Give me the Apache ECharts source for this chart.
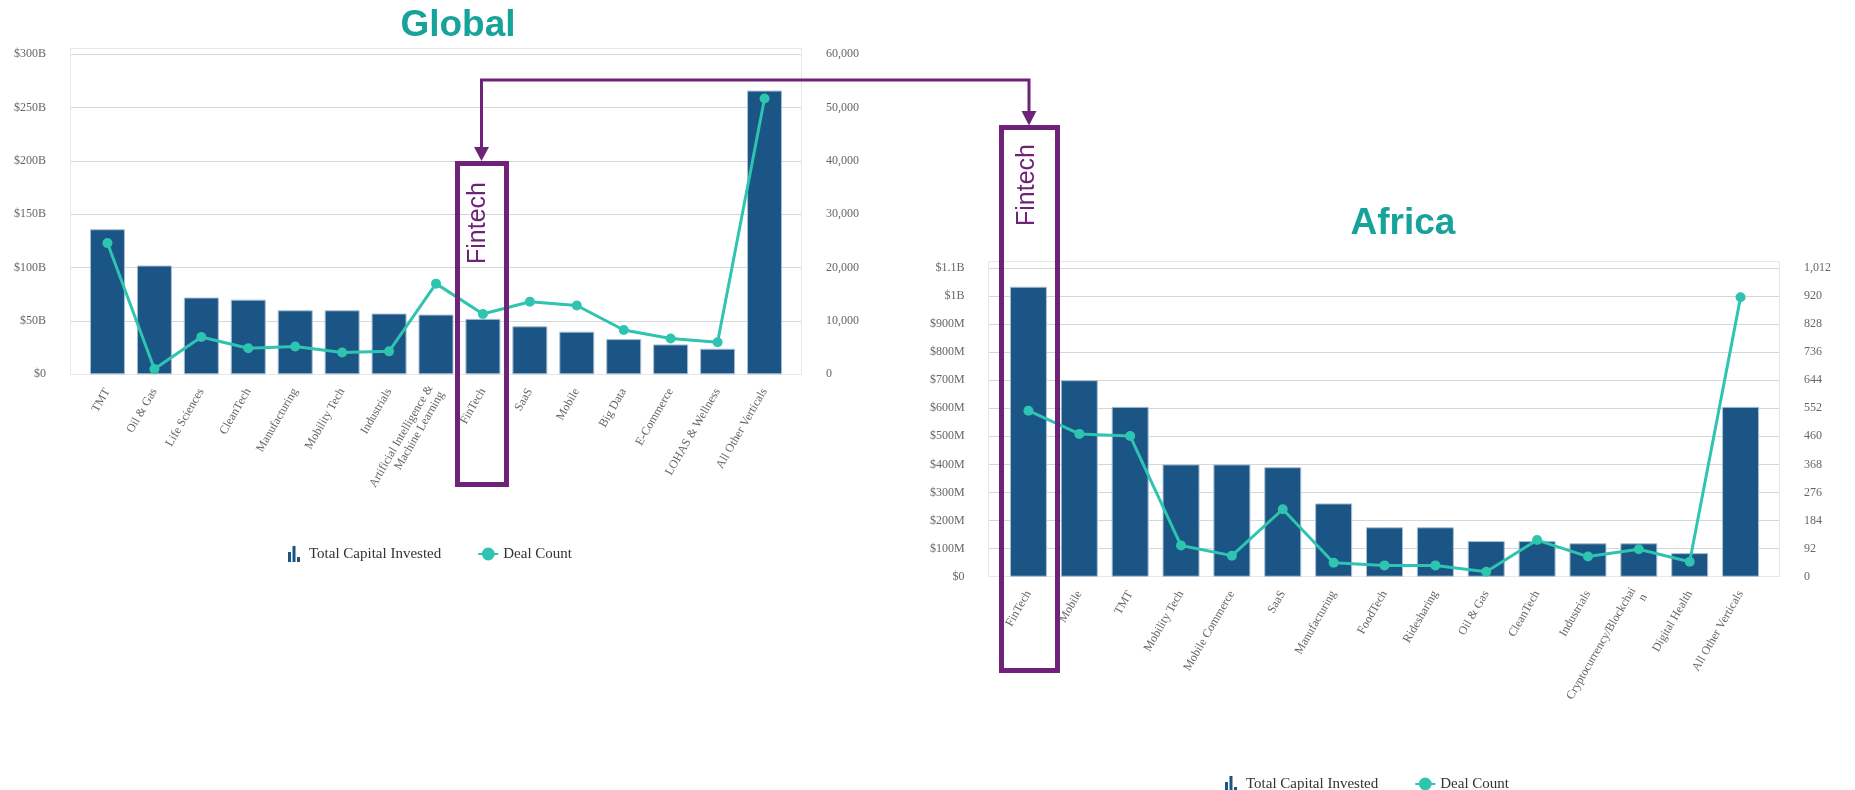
<!DOCTYPE html>
<html>
<head>
<meta charset="utf-8">
<script src="https://cdn.jsdelivr.net/npm/echarts@6/dist/echarts.min.js"></script>
<style>
html,body{margin:0;padding:0;background:#fff;}
#chart{width:1855px;height:790px;}
</style>
</head>
<body>
<div id="chart"></div>
<script>
// ---- Data ----
var globalCategories = ['TMT','Oil & Gas','Life Sciences','CleanTech','Manufacturing','Mobility Tech','Industrials','Artificial Intelligence &\nMachine Learning','FinTech','SaaS','Mobile','Big Data','E-Commerce','LOHAS & Wellness','All Other Verticals'];
var globalCapitalB = [136, 102, 72, 70, 60, 60, 57, 56, 52, 45, 40, 33, 28, 24, 266];
var globalDeals = [24600, 1000, 7000, 4900, 5200, 4100, 4300, 17000, 11300, 13600, 12900, 8300, 6700, 6000, 51700];
var globalLeftTicks = [0, 50, 100, 150, 200, 250, 300];
var globalRightTicks = [0, 10000, 20000, 30000, 40000, 50000, 60000];

var africaCategories = ['FinTech','Mobile','TMT','Mobility Tech','Mobile Commerce','SaaS','Manufacturing','FoodTech','Ridesharing','Oil & Gas','CleanTech','Industrials','Cryptocurrency/Blockchai\nn','Digital Health','All Other Verticals'];
var africaCapitalM = [1033, 700, 605, 400, 400, 390, 261, 176, 176, 127, 127, 119, 119, 84, 605];
var africaDeals = [544, 468, 461, 102, 69, 221, 46, 37, 37, 16, 120, 66, 90, 49, 916];
var africaLeftTicks = [0, 100, 200, 300, 400, 500, 600, 700, 800, 900, 1000, 1100];
var africaRightTicks = [0, 92, 184, 276, 368, 460, 552, 644, 736, 828, 920, 1012];

// ---- Styles ----
var BAR = '#1b5585', LINE = '#2ec4b0', PURPLE = '#6e2379', TEAL = '#17a39b';
var GRIDC = '#d6d6d6', LABC = '#666666', SERIF = '"Liberation Serif", "Times New Roman", serif';
var SANS = '"Liberation Sans", Arial, sans-serif';

function fmtB(v){ return v === 0 ? '$0' : '$' + v + 'B'; }
function fmtM(v){ if (v === 0) return '$0'; if (v >= 1000) return '$' + (v/1000) + 'B'; return '$' + v + 'M'; }
function fmtN(v){ return Number(v).toLocaleString('en-US'); }

var chart = echarts.init(document.getElementById('chart'), null, {renderer:'canvas'});

var yLab = {color: LABC, fontFamily: SERIF, fontSize: 12, margin: 24};
var xLab = {color: LABC, fontFamily: SERIF, fontSize: 12, rotate: 60, margin: 15, interval: 0, lineHeight: 13};
var barIcon = 'path://M0,6L3,6L3,16L0,16Z M4.5,0L7.5,0L7.5,16L4.5,16Z M9,11L12,11L12,16L9,16Z';

function frameY(grid, pos, max, interval, fmt, split){
  return {type:'value', gridIndex:grid, position:pos, min:0, max:max, interval:interval,
    axisLine:{show:false}, axisTick:{show:false},
    axisLabel:Object.assign({formatter:fmt}, yLab),
    splitLine:{show:split, lineStyle:{color:GRIDC, width:1}}};
}
function hiddenY(grid, max, interval){
  return {type:'value', gridIndex:grid, min:0, max:max, interval:interval, show:false, splitLine:{show:false}};
}
function makeLegend(left, top){
  return {left:left, top:top, itemWidth:20, itemHeight:16, itemGap:36,
    textStyle:{fontFamily:SERIF, fontSize:15, color:'#333'},
    data:[{name:'Total Capital Invested', icon:barIcon, itemStyle:{color:BAR, borderWidth:0}}, {name:'Deal Count'}]};
}

var option = {
  animation:false,
  backgroundColor:'#ffffff',
  grid:[
    {left:70, right:1855-802, top:54.3, bottom:790-374.3},
    {left:84, right:1855-788, top:54.3, bottom:790-374.3},
    {left:988.6, right:1855-1780, top:267.9, bottom:790-576.7},
    {left:1003, right:1855-1766, top:267.9, bottom:790-576.7}
  ],
  legend:[ makeLegend(283, 541), makeLegend(1220, 771) ],
  xAxis:[
    {type:'category', gridIndex:0, data:globalCategories, show:false},
    {type:'category', gridIndex:1, data:globalCategories, axisLine:{show:false}, axisTick:{show:false}, axisLabel:xLab},
    {type:'category', gridIndex:2, data:africaCategories, show:false},
    {type:'category', gridIndex:3, data:africaCategories, axisLine:{show:false}, axisTick:{show:false}, axisLabel:xLab}
  ],
  yAxis:[
    frameY(0, 'left', globalLeftTicks[globalLeftTicks.length-1], 50, fmtB, true),
    frameY(0, 'right', globalRightTicks[globalRightTicks.length-1], 10000, fmtN, false),
    hiddenY(1, 300, 50),
    hiddenY(1, 60000, 10000),
    frameY(2, 'left', africaLeftTicks[africaLeftTicks.length-1], 100, fmtM, true),
    frameY(2, 'right', africaRightTicks[africaRightTicks.length-1], 92, fmtN, false),
    hiddenY(3, 1100, 100),
    hiddenY(3, 1012, 92)
  ],
  series:[
    {name:'Total Capital Invested', type:'bar', xAxisIndex:1, yAxisIndex:2, data:globalCapitalB, barWidth:35,
     itemStyle:{color:BAR, borderColor:'#a9bfd3', borderWidth:1}},
    {name:'Deal Count', type:'line', xAxisIndex:1, yAxisIndex:3, data:globalDeals, symbol:'circle', symbolSize:10,
     lineStyle:{color:LINE, width:3}, itemStyle:{color:LINE}, z:5},
    {name:'Total Capital Invested', type:'bar', xAxisIndex:3, yAxisIndex:6, data:africaCapitalM, barWidth:37,
     itemStyle:{color:BAR, borderColor:'#a9bfd3', borderWidth:1}},
    {name:'Deal Count', type:'line', xAxisIndex:3, yAxisIndex:7, data:africaDeals, symbol:'circle', symbolSize:10,
     lineStyle:{color:LINE, width:3}, itemStyle:{color:LINE}, z:5}
  ],
  graphic:[
    {type:'rect', z:1, silent:true, shape:{x:70.5, y:48.5, width:731, height:326}, style:{fill:'none', stroke:'#e8e8e8', lineWidth:1}},
    {type:'rect', z:1, silent:true, shape:{x:988.5, y:261.5, width:791, height:315}, style:{fill:'none', stroke:'#e8e8e8', lineWidth:1}},
    {type:'text', z:100, x:458, y:26, style:{text:'Global', fill:TEAL, font:'bold 37px ' + SANS, textAlign:'center', textVerticalAlign:'middle'}},
    {type:'text', z:100, x:1403, y:224, style:{text:'Africa', fill:TEAL, font:'bold 37px ' + SANS, textAlign:'center', textVerticalAlign:'middle'}},
    {type:'rect', z:100, shape:{x:457.5, y:163.5, width:49, height:321}, style:{fill:'none', stroke:PURPLE, lineWidth:5}},
    {type:'rect', z:100, shape:{x:1001.5, y:127.5, width:56, height:543}, style:{fill:'none', stroke:PURPLE, lineWidth:5}},
    {type:'text', z:100, x:478, y:223, rotation:Math.PI/2, style:{text:'Fintech', fill:PURPLE, font:'25px ' + SANS, textAlign:'center', textVerticalAlign:'middle'}},
    {type:'text', z:100, x:1027, y:185, rotation:Math.PI/2, style:{text:'Fintech', fill:PURPLE, font:'25px ' + SANS, textAlign:'center', textVerticalAlign:'middle'}},
    {type:'polyline', z:100, shape:{points:[[481.5,150],[481.5,80],[1029,80],[1029,113]]}, style:{fill:'none', stroke:PURPLE, lineWidth:3}},
    {type:'polygon', z:100, shape:{points:[[474,147],[489,147],[481.5,161]]}, style:{fill:PURPLE}},
    {type:'polygon', z:100, shape:{points:[[1021.5,111],[1036.5,111],[1029,125.5]]}, style:{fill:PURPLE}}
  ]
};
chart.setOption(option);
</script>
</body>
</html>
